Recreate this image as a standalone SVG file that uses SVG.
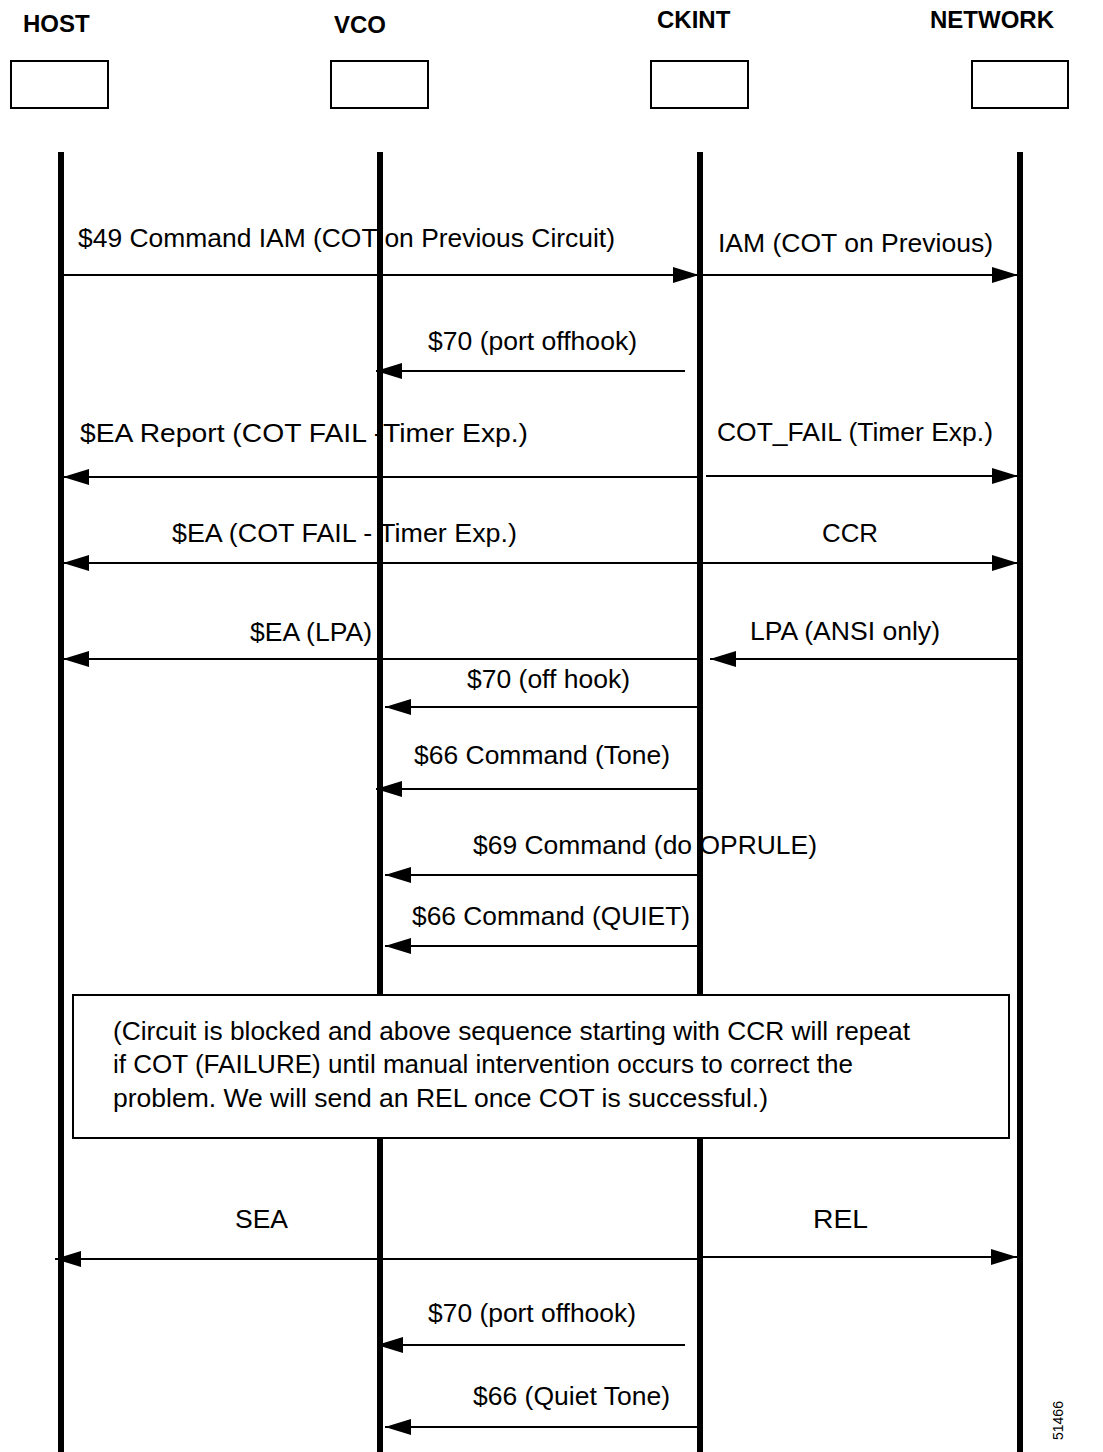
<svg xmlns="http://www.w3.org/2000/svg" width="1103" height="1452" viewBox="0 0 1103 1452">
  <style>
    .hdr { font-family: "Liberation Sans", Arial, sans-serif; font-weight: bold; font-size: 24px; fill: #000; }
    .lbl { font-family: "Liberation Sans", Arial, sans-serif; font-size: 25px; fill: #000; }
    .note { font-family: "Liberation Sans", Arial, sans-serif; font-size: 25px; fill: #000; }
    .box { fill: #fff; stroke: #000; stroke-width: 2; }
    .life { stroke: #000; stroke-width: 6; }
    .msg { stroke: #000; stroke-width: 2; fill: none; marker-end: url(#arrow); }
    .fig { font-family: "Liberation Sans", Arial, sans-serif; font-size: 14px; fill: #000; }
  </style>
  <defs>
    <marker id="arrow" markerUnits="userSpaceOnUse" markerWidth="26" markerHeight="16" refX="26" refY="8" orient="auto">
      <path d="M0,0 L26,8 L0,16 Z" fill="#000"/>
    </marker>
  </defs>
  <rect width="1103" height="1452" fill="#fff"/>

  <!-- message labels and arrows -->
  <g id="connectors">
    <text class="lbl" x="78" y="247" textLength="537" lengthAdjust="spacingAndGlyphs">$49 Command IAM (COT on Previous Circuit)</text>
    <line class="msg" x1="61" y1="275" x2="699" y2="275"/>
    <text class="lbl" x="718" y="252" textLength="275" lengthAdjust="spacingAndGlyphs">IAM (COT on Previous)</text>
    <line class="msg" x1="700" y1="275" x2="1018" y2="275"/>

    <text class="lbl" x="428" y="350" textLength="209" lengthAdjust="spacingAndGlyphs">$70 (port offhook)</text>
    <line class="msg" x1="685" y1="371" x2="376" y2="371"/>

    <text class="lbl" x="80" y="442" textLength="448" lengthAdjust="spacingAndGlyphs">$EA Report (COT FAIL -Timer Exp.)</text>
    <line class="msg" x1="700" y1="477" x2="63" y2="477"/>
    <text class="lbl" x="717" y="441" textLength="276" lengthAdjust="spacingAndGlyphs">COT_FAIL (Timer Exp.)</text>
    <line class="msg" x1="706" y1="476" x2="1018" y2="476"/>

    <text class="lbl" x="172" y="542" textLength="345" lengthAdjust="spacingAndGlyphs">$EA (COT FAIL - Timer Exp.)</text>
    <line class="msg" x1="700" y1="563" x2="63" y2="563"/>
    <text class="lbl" x="822" y="542" textLength="56" lengthAdjust="spacingAndGlyphs">CCR</text>
    <line class="msg" x1="700" y1="563" x2="1018" y2="563"/>

    <text class="lbl" x="250" y="641" textLength="122" lengthAdjust="spacingAndGlyphs">$EA (LPA)</text>
    <line class="msg" x1="700" y1="659" x2="63" y2="659"/>
    <text class="lbl" x="750" y="640" textLength="190" lengthAdjust="spacingAndGlyphs">LPA (ANSI only)</text>
    <line class="msg" x1="1018" y1="659" x2="710" y2="659"/>

    <text class="lbl" x="467" y="688" textLength="163" lengthAdjust="spacingAndGlyphs">$70 (off hook)</text>
    <line class="msg" x1="700" y1="707" x2="385" y2="707"/>

    <text class="lbl" x="414" y="764" textLength="256" lengthAdjust="spacingAndGlyphs">$66 Command (Tone)</text>
    <line class="msg" x1="700" y1="789" x2="376" y2="789"/>

    <text class="lbl" x="473" y="854" textLength="344" lengthAdjust="spacingAndGlyphs">$69 Command (do OPRULE)</text>
    <line class="msg" x1="700" y1="875" x2="385" y2="875"/>

    <text class="lbl" x="412" y="925" textLength="278" lengthAdjust="spacingAndGlyphs">$66 Command (QUIET)</text>
    <line class="msg" x1="700" y1="946" x2="385" y2="946"/>

    <text class="lbl" x="235" y="1228" textLength="53" lengthAdjust="spacingAndGlyphs">SEA</text>
    <line class="msg" x1="700" y1="1259" x2="55" y2="1259"/>
    <text class="lbl" x="813" y="1228" textLength="55" lengthAdjust="spacingAndGlyphs">REL</text>
    <line class="msg" x1="700" y1="1257" x2="1017" y2="1257"/>

    <text class="lbl" x="428" y="1322" textLength="208" lengthAdjust="spacingAndGlyphs">$70 (port offhook)</text>
    <line class="msg" x1="685" y1="1345" x2="377" y2="1345"/>

    <text class="lbl" x="473" y="1405" textLength="197" lengthAdjust="spacingAndGlyphs">$66 (Quiet Tone)</text>
    <line class="msg" x1="700" y1="1427" x2="385" y2="1427"/>
  </g>

  <!-- participants: name, head box, lifeline -->
  <g id="host">
    <text class="hdr" x="23" y="32">HOST</text>
    <rect class="box" x="11" y="61" width="97" height="47"/>
    <line class="life" x1="61" y1="152" x2="61" y2="1452"/>
  </g>
  <g id="vco">
    <text class="hdr" x="334" y="33">VCO</text>
    <rect class="box" x="331" y="61" width="97" height="47"/>
    <line class="life" x1="380" y1="152" x2="380" y2="1452"/>
  </g>
  <g id="ckint">
    <text class="hdr" x="657" y="28">CKINT</text>
    <rect class="box" x="651" y="61" width="97" height="47"/>
    <line class="life" x1="700" y1="152" x2="700" y2="1452"/>
  </g>
  <g id="network">
    <text class="hdr" x="930" y="28">NETWORK</text>
    <rect class="box" x="972" y="61" width="96" height="47"/>
    <line class="life" x1="1020" y1="152" x2="1020" y2="1452"/>
  </g>

  <!-- note spanning the lifelines -->
  <g id="note">
    <rect class="box" x="73" y="995" width="936" height="143"/>
    <text class="note" x="113" y="1040" textLength="797" lengthAdjust="spacingAndGlyphs"> (Circuit is blocked and above sequence starting with CCR will repeat</text>
    <text class="note" x="113" y="1073" textLength="740" lengthAdjust="spacingAndGlyphs">if COT (FAILURE) until manual intervention occurs to correct the</text>
    <text class="note" x="113" y="1107" textLength="655" lengthAdjust="spacingAndGlyphs">problem. We will send an REL once COT is successful.)</text>
  </g>

  <text class="fig" transform="translate(1063,1440) rotate(-90)">51466</text>
</svg>
